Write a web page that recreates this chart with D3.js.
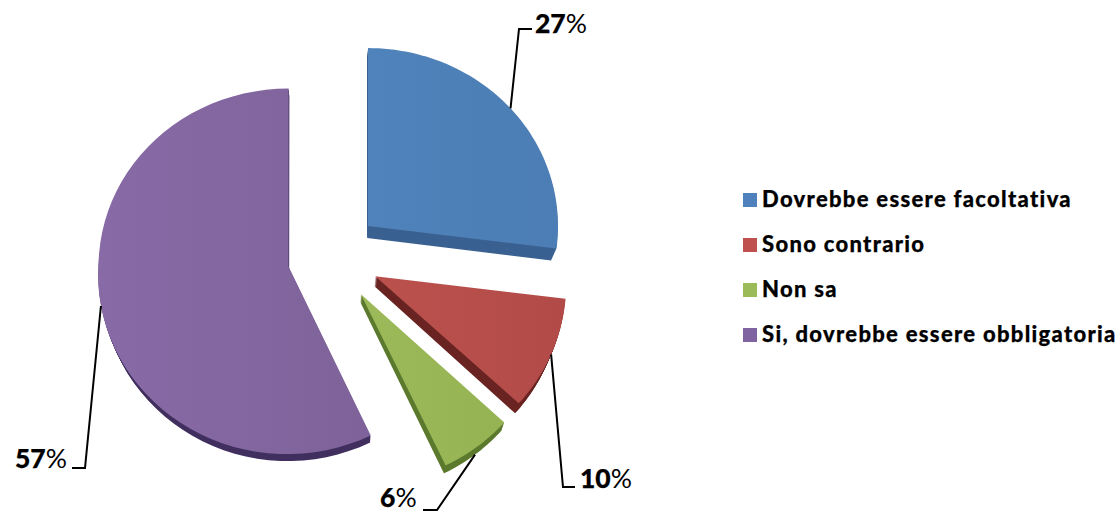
<!DOCTYPE html>
<html>
<head>
<meta charset="utf-8">
<script src="https://cdn.jsdelivr.net/npm/d3@7"></script>
<style>
    html, body { margin: 0; padding: 0; background: #fff; }
    svg { display: block; }
    text { font-family: Lato, "Open Sans", sans-serif; fill: #000; stroke: #000; stroke-width: 0.25; }
</style>
</head>
<body>
<svg id="chart" width="1120" height="513"></svg>
<script>
// chart data
const categories = ['Dovrebbe essere facoltativa', 'Sono contrario', 'Non sa', 'Si, dovrebbe essere obbligatoria'];
const percents = [27, 10, 6, 57];

// colours: legend swatch, top face (left and right shade), side wall
const swatchColors = ['#4f81bd', '#c0504d', '#9bbb59', '#8064a2'];
const lightColors = ['#5083bb', '#bb514d', '#9dba5a', '#886ba6'];
const darkColors = ['#4c7db5', '#b24b48', '#96b354', '#7e6299'];
const wallColors = ['#3a6191', '#6a2523', '#5c7a2e', '#41305f'];

// layout of the tilted pie
const cx = 333.5, cy = 256.5, rx = 190, ry = 178, explode = 46;
const wallDepth = [12, 10, 8, 7];

// leader elbows and label anchors, one per slice
const elbows = [[519, 29, 532, 29], [563, 487, 575, 487], [437, 510, 423, 510], [85, 468, 72, 468]];
const labelAt = [[535, 33], [580, 488], [380, 507], [15, 468]];

const svg = d3.select('#chart');
const defs = svg.append('defs');

const pie = d3.pie().sort(null).value(d => d);
const slices = pie(percents);

// apex of an exploded slice
function apex(s) {
    const mid = (s.startAngle + s.endAngle) / 2;
    return [cx + Math.sin(mid) * explode, cy - Math.cos(mid) * explode];
}

// fake the perspective: the part nearer to the viewer gets bigger,
// z is how far down the side wall we are
function project(x, y, z) {
    const dy = y - cy;
    const near = dy > 0 ? dy : 0;
    const px = cx + (x - cx) * (1 + near * 0.0002 - z * 0.002);
    const py = y + near * near * 0.00027 + z;
    return [px, py];
}

// outline of a slice, sampled along the rim
function sliceOutline(s, z) {
    const [ax, ay] = apex(s);
    const steps = d3.range(0, 61).map(k => s.startAngle + (s.endAngle - s.startAngle) * k / 60);
    const rim = steps.map(a => project(ax + Math.sin(a) * rx, ay - Math.cos(a) * ry, z));
    return d3.line()([project(ax, ay, z), ...rim]) + 'Z';
}

slices.forEach((s, i) => {
    const grad = defs.append('linearGradient').attr('id', `shade${i}`);
    grad.append('stop').attr('offset', '0%').attr('stop-color', lightColors[i]);
    grad.append('stop').attr('offset', '100%').attr('stop-color', darkColors[i]);
});

const sliceG = svg.append('g');

slices.forEach((s, i) => {
    // side wall: same outline repeated downwards
    d3.range(wallDepth[i], 0, -1).forEach(z => {
        sliceG.append('path')
            .attr('d', sliceOutline(s, z))
            .attr('fill', wallColors[i]);
    });

    // top face
    sliceG.append('path')
        .attr('d', sliceOutline(s, 0))
        .attr('fill', `url(#shade${i})`);
});

// leader lines start on the rim at the slice's middle angle
slices.forEach((s, i) => {
    const [ax, ay] = apex(s);
    const mid = (s.startAngle + s.endAngle) / 2;
    const start = project(ax + Math.sin(mid) * rx, ay - Math.cos(mid) * ry, i === 2 ? wallDepth[i] : 0);
    const e = elbows[i];

    svg.append('path')
        .attr('d', d3.line()([start, [e[0], e[1]], [e[2], e[3]]]))
        .attr('fill', 'none')
        .attr('stroke', '#000')
        .attr('stroke-width', 2);

    const label = svg.append('text')
        .attr('x', labelAt[i][0])
        .attr('y', labelAt[i][1])
        .attr('font-size', 26.5)
        .attr('font-weight', 900);
    label.append('tspan').text(percents[i]);
    label.append('tspan').attr('font-weight', 400).attr('stroke-width', 0).text('%');
});

// legend
const legend = svg.append('g').attr('transform', 'translate(743,193)');
const rows = legend.selectAll('g')
    .data(categories)
    .join('g')
    .attr('transform', (d, i) => `translate(0,${i * 45})`);

rows.append('rect')
    .attr('width', 14)
    .attr('height', 14)
    .attr('fill', (d, i) => swatchColors[i]);

rows.append('text')
    .attr('x', 19)
    .attr('y', 14)
    .attr('font-size', 22)
    .attr('font-weight', 900)
    .attr('letter-spacing', 1.3)
    .text(d => d);
</script>
</body>
</html>
